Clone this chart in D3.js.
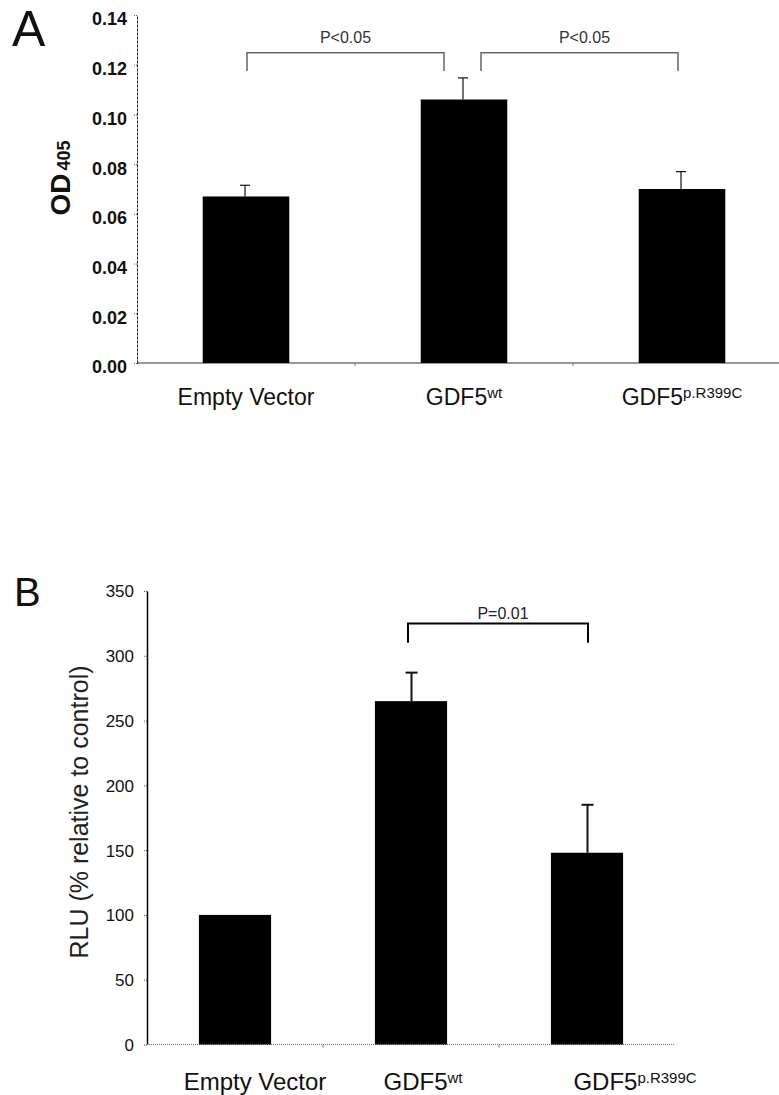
<!DOCTYPE html>
<meta charset="utf-8" />
<style>
  body { margin: 0; background: #fff; }
  svg { font-family: "Liberation Sans", Arial, sans-serif; }
  .bar { fill: #000; }
  .err { stroke: #111; fill: none; }
</style>
<svg width="779" height="1095"></svg>
<script src="https://d3js.org/d3.v7.min.js"></script>
<script>
  // shared categories
  const groups = ['Empty Vector', 'GDF5', 'GDF5'];
  const groupSup = ['', 'wt', 'p.R399C'];

  // panel A: OD405
  const odValues = [0.067, 0.106, 0.070];
  const odErrors = [0.0045, 0.0087, 0.007];
  const odTicks = [0, 0.02, 0.04, 0.06, 0.08, 0.1, 0.12, 0.14];
  const odPairs = [[0, 1], [1, 2]];
  const odPairText = ['P<0.05', 'P<0.05'];
  const odPairLevel = [0.1248, 0.1175]; // top of bracket, end of legs

  // panel B: luciferase
  const rluValues = [100, 265, 148];
  const rluErrors = [0, 22, 37];
  const rluTicks = [0, 50, 100, 150, 200, 250, 300, 350];
  const rluPairs = [[1, 2]];
  const rluPairText = ['P=0.01'];
  const rluPairLevel = [325, 310];

  const svg = d3.select('svg');

  function catLabel(g, x, y, i, size, supSize, dx) {
    const t = g.append('text')
      .attr('x', x + (dx || 0))
      .attr('y', y)
      .attr('text-anchor', 'middle')
      .attr('font-size', size)
      .attr('fill', '#111')
      .text(groups[i]);
    if (groupSup[i]) {
      t.append('tspan')
        .attr('font-size', supSize)
        .attr('dy', -size * 0.3)
        .text(groupSup[i]);
    }
  }

  function panel(opt) {
    const g = svg.append('g');
    const x = d3.scaleBand().domain(d3.range(groups.length)).range(opt.xRange);
    const y = d3.scaleLinear().domain(opt.yDomain).range(opt.yRange);
    const bw = x.bandwidth() * opt.barFrac;
    const cx = i => x(i) + x.bandwidth() / 2;

    // y axis
    const ax = g.append('g')
      .attr('transform', `translate(${opt.xRange[0]},0)`)
      .call(d3.axisLeft(y).tickValues(opt.ticks).tickSize(4).tickSizeOuter(0)
        .tickPadding(opt.tickPad).tickFormat(opt.fmt));
    ax.select('.domain').attr('stroke', opt.axisColor).attr('stroke-width', opt.axisWidth)
      .attr('stroke-dasharray', opt.axisDash);
    ax.selectAll('.tick line').attr('stroke', '#555').attr('stroke-dasharray', '1,1');
    ax.selectAll('.tick text')
      .attr('font-size', opt.tickFont)
      .attr('font-weight', opt.tickWeight)
      .attr('fill', '#111')
      .attr('dy', opt.tickDy)
      .style('font-family', '"Liberation Sans", Arial, sans-serif');

    // x baseline
    const y0 = y(0);
    g.append('line')
      .attr('x1', opt.xRange[0]).attr('x2', opt.xRange[1])
      .attr('y1', y0).attr('y2', y0)
      .attr('stroke', opt.baseColor).attr('stroke-width', 1.2)
      .attr('stroke-dasharray', opt.baseDash);
    g.selectAll('.xtick')
      .data([1, 2])
      .join('line')
      .attr('x1', d => x(d)).attr('x2', d => x(d))
      .attr('y1', y0).attr('y2', y0 + 3)
      .attr('stroke', '#777');

    // bars
    g.selectAll('.bar')
      .data(opt.values)
      .join('rect')
      .attr('class', 'bar')
      .attr('x', (d, i) => cx(i) - bw / 2)
      .attr('width', bw)
      .attr('y', d => y(d))
      .attr('height', d => y0 - y(d));

    // error bars (upper only)
    opt.values.forEach((v, i) => {
      const e = opt.errors[i];
      if (!e) return;
      const xe = cx(i) + opt.errDx;
      g.append('line').attr('class', 'err')
        .attr('x1', xe).attr('x2', xe)
        .attr('y1', y(v)).attr('y2', y(v + e))
        .attr('stroke-width', opt.errWidth);
      g.append('line').attr('class', 'err')
        .attr('x1', xe - opt.capHalf).attr('x2', xe + opt.capHalf)
        .attr('y1', y(v + e)).attr('y2', y(v + e))
        .attr('stroke-width', opt.errWidth);
    });

    // significance brackets
    opt.pairs.forEach((p, k) => {
      const xa = cx(p[0]) + opt.pairDx[k][0];
      const xb = cx(p[1]) + opt.pairDx[k][1];
      const yt = y(opt.pairLevel[0]);
      const yl = y(opt.pairLevel[1]);
      g.append('path')
        .attr('d', `M${xa},${yl}V${yt}H${xb}V${yl}`)
        .attr('fill', 'none')
        .attr('stroke', opt.pairColor)
        .attr('stroke-width', opt.pairWidth);
      g.append('text')
        .attr('x', (xa + xb) / 2 + opt.pairTextDx[k])
        .attr('y', yt - opt.pairTextGap)
        .attr('text-anchor', 'middle')
        .attr('font-size', 16)
        .attr('fill', opt.pairTextColor)
        .text(opt.pairText[k]);
    });

    // category labels
    groups.forEach((d, i) => catLabel(g, cx(i), opt.labelY, i, opt.labelFont, opt.supFont, opt.labelDx[i]));

    return { g, x, y };
  }

  // ---- Panel A ----
  const A = panel({
    xRange: [137, 791], yDomain: [0, 0.14], yRange: [363, 15],
    barFrac: 0.397, ticks: odTicks, fmt: d3.format('.2f'),
    tickPad: 6, tickFont: 18, tickWeight: 'bold', tickDy: '0.55em',
    axisColor: '#222', axisWidth: 1, axisDash: '3,1',
    baseColor: '#333', baseDash: null,
    values: odValues, errors: odErrors, errDx: -1, errWidth: 1.2, capHalf: 5,
    pairs: odPairs, pairDx: [[1, -20], [17, -4]], pairLevel: odPairLevel,
    pairColor: '#666', pairWidth: 1.5, pairText: odPairText, pairTextDx: [0, 5],
    pairTextGap: 10, pairTextColor: '#333',
    labelY: 405, labelFont: 23, supFont: 15, labelDx: [0, 0, 0]
  });
  svg.append('text')
    .attr('x', 12).attr('y', 46)
    .attr('font-size', 50).attr('fill', '#111')
    .text('A');
  const odLab = svg.append('text')
    .attr('transform', 'translate(70,178) rotate(-90)')
    .attr('text-anchor', 'middle')
    .attr('font-weight', 'bold')
    .attr('font-size', 28)
    .attr('fill', '#111')
    .text('OD');
  odLab.append('tspan').attr('font-size', 18).attr('dx', 3).text('405');

  // ---- Panel B ----
  const B = panel({
    xRange: [147, 675], yDomain: [0, 350], yRange: [1044.5, 591],
    barFrac: 0.41, ticks: rluTicks, fmt: d3.format('d'),
    tickPad: 9, tickFont: 17, tickWeight: 'normal', tickDy: '0.35em',
    axisColor: '#000', axisWidth: 1.5, axisDash: null,
    baseColor: '#777', baseDash: '1,1',
    values: rluValues, errors: rluErrors, errDx: 0.5, errWidth: 2, capHalf: 6,
    pairs: rluPairs, pairDx: [[-3, 1]], pairLevel: rluPairLevel,
    pairColor: '#000', pairWidth: 2, pairText: rluPairText, pairTextDx: [5],
    pairTextGap: 4, pairTextColor: '#222',
    labelY: 1090, labelFont: 24, supFont: 15, labelDx: [20, 12, 48]
  });
  svg.append('text')
    .attr('x', 14).attr('y', 606)
    .attr('font-size', 40).attr('fill', '#111')
    .text('B');
  svg.append('text')
    .attr('transform', 'translate(88,812) rotate(-90)')
    .attr('text-anchor', 'middle')
    .attr('font-size', 25)
    .attr('fill', '#222')
    .text('RLU (% relative to control)');
</script>
